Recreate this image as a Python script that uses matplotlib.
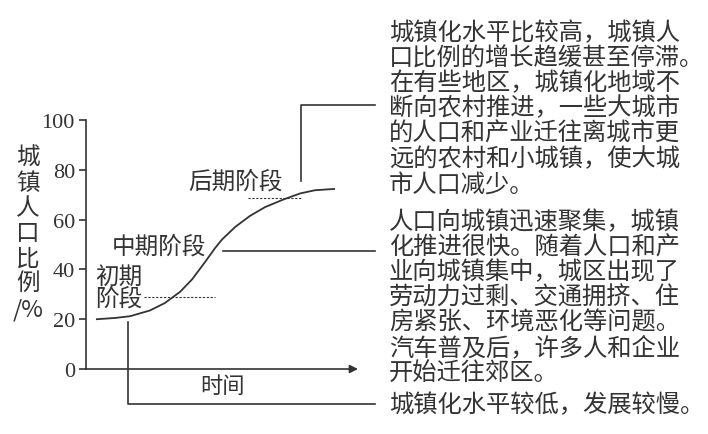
import matplotlib
matplotlib.use('Agg')
import matplotlib.pyplot as plt

#
# DATA
#
time = [0.40, 1.07, 1.62, 2.35, 2.90, 3.46, 3.90, 4.38, 4.74, 5.00,
        5.48, 6.03, 6.58, 7.24, 7.87, 8.42, 9.12]
ratio = [20, 20.5, 21.2, 23.5, 26.5, 31, 36, 43, 48.5, 52,
         57, 61.5, 65, 68, 70.5, 71.8, 72.3]
yticks = [0, 20, 40, 60, 80, 100]
ylabel_chars = ['城', '镇', '人', '口', '比', '例', '/%']
stage_labels = ['初期\n阶段', '中期阶段', '后期阶段']
late_text = ['城镇化水平比较高，城镇人', '口比例的增长趋缓甚至停滞。',
             '在有些地区，城镇化地域不', '断向农村推进，一些大城市',
             '的人口和产业迁往离城市更', '远的农村和小城镇，使大城',
             '市人口减少。']
mid_text = ['人口向城镇迅速聚集，城镇', '化推进很快。随着人口和产',
            '业向城镇集中，城区出现了', '劳动力过剩、交通拥挤、住',
            '房紧张、环境恶化等问题。', '汽车普及后，许多人和企业',
            '开始迁往郊区。']
early_text = ['城镇化水平较低，发展较慢。']

#
# GUI
#
plt.rcParams['font.family'] = ['Noto Sans CJK SC', 'DejaVu Sans']
INK = '#333333'
W, H = 708, 435
fig = plt.figure(figsize=(W / 100, H / 100), dpi=100)
ax = fig.add_axes([86 / W, 65 / H, 272 / W, 249 / H])
ax.set_xlim(0, 10)
ax.set_ylim(0, 100)

for s in ['top', 'right', 'bottom']:
    ax.spines[s].set_visible(False)
ax.spines['left'].set_color(INK)
ax.spines['left'].set_linewidth(1.2)
ax.set_xticks([])
ax.set_yticks(yticks)
ax.set_yticklabels([str(v) for v in yticks], family='Liberation Serif', fontsize=16, color=INK)
ax.tick_params(axis='y', length=5, width=1.2, color=INK, pad=3)

# x axis with arrow
ax.annotate('', xy=(10, 0), xytext=(0, 0), annotation_clip=False,
            arrowprops=dict(arrowstyle='-|>', color=INK, lw=1.2, mutation_scale=12,
                            shrinkA=0, shrinkB=0))
ax.text(5.0, -6.5, '时间', ha='center', va='center', fontsize=16, color=INK, clip_on=False)

# curve
ax.plot(time, ratio, color=INK, lw=1.3, clip_on=False)

# dashed stage limits
ax.plot([2.13, 4.74], [29, 29], color=INK, lw=0.8, ls=(0, (2, 1.5)))
ax.plot([5.96, 7.94], [68.7, 68.7], color=INK, lw=0.8, ls=(0, (2, 1.5)))

# stage labels
ax.text(0.33, 32.8, stage_labels[0], ha='left', va='center', fontsize=17,
        color=INK, linespacing=0.95)
ax.text(0.96, 49.4, stage_labels[1], ha='left', va='center', fontsize=17, color=INK)
ax.text(3.75, 75.5, stage_labels[2], ha='left', va='center', fontsize=17, color=INK)

# connectors
ax.plot([7.9, 7.9, 10.62], [75.5, 106, 106], color=INK, lw=1.2, clip_on=False)
ax.plot([5.04, 10.62], [47.4, 47.4], color=INK, lw=1.2, clip_on=False)
ax.plot([1.54, 1.54, 10.62], [18.9, -14.1, -14.1], color=INK, lw=1.2, clip_on=False)

# y label, one character per row
for i, ch in enumerate(ylabel_chars):
    fig.text(28 / W, 1 - (158 + i * 25.3) / H, ch, ha='center', va='center',
             fontsize=17, color=INK, style='italic' if ch == '/%' else 'normal')

# explanation blocks
def block(lines, y0, step=25.2):
    for i, s in enumerate(lines):
        fig.text(389 / W, 1 - (y0 + i * step) / H, s, ha='left', va='center',
                 fontsize=17.5, color=INK)

block(late_text, 33)
block(mid_text, 222)
block(early_text, 405)

fig.savefig('out.png', dpi=100, facecolor='white')
